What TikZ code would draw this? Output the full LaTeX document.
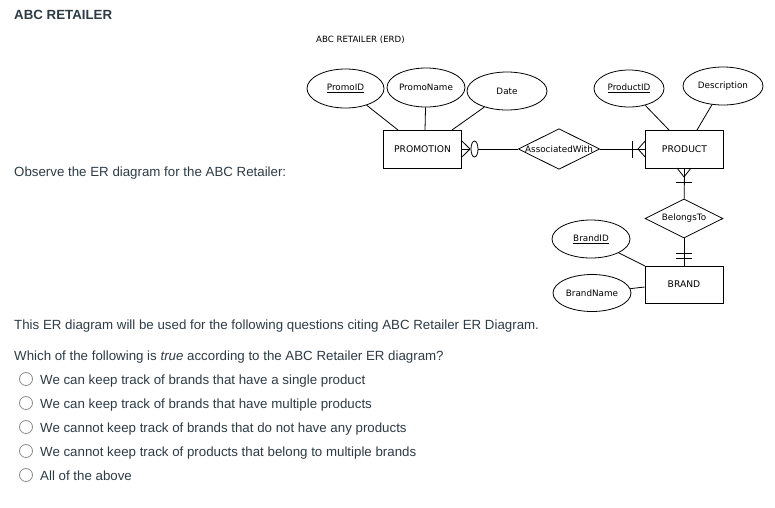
\documentclass[tikz,border=0pt]{standalone}
\usepackage{fontspec}
\setmainfont{Liberation Sans}
\newfontfamily\erfont{DejaVu Sans}
\usetikzlibrary{shapes.geometric}
\definecolor{txt}{HTML}{2D3B45}
\definecolor{radio}{HTML}{8A8A8A}
\begin{document}
\begin{tikzpicture}[x=1pt,y=-1pt,
  attr/.style={draw,ellipse,inner sep=0pt,minimum width=78pt,minimum height=38pt,font=\erfont\fontsize{8.8}{10}\selectfont,line width=0.8pt},
  ent/.style={draw,rectangle,inner sep=0pt,minimum width=78pt,minimum height=38pt,font=\erfont\fontsize{9.2}{11}\selectfont,line width=0.8pt},
  rel/.style={draw,diamond,aspect=2,inner sep=0pt,minimum width=78pt,minimum height=39pt,font=\erfont\fontsize{8.8}{10}\selectfont,line width=0.8pt},
  body/.style={anchor=base west,inner sep=0pt,text=txt,font=\fontsize{13.3}{15}\selectfont},
  er/.style={line width=0.8pt},
  radiobtn/.style={draw=radio,circle,minimum size=13pt,inner sep=0pt,line width=0.8pt}]
\useasboundingbox (0,0) rectangle (775,507);
% page texts
\node[anchor=base west,inner sep=0pt,text=txt,font=\bfseries\fontsize{13.3}{16}\selectfont] (title) at (14,19) {ABC RETAILER};
\node[anchor=base west,inner sep=0pt,font=\erfont\fontsize{8.6}{10}\selectfont] (ertitle) at (316,42) {ABC RETAILER (ERD)};
\node[body] (observe) at (14,176) {Observe the ER diagram for the ABC Retailer:};
\node[body] (this) at (14,329) {This ER diagram will be used for the following questions citing ABC Retailer ER Diagram.};
\node[body] (which) at (14,360) {Which of the following is \textit{true} according to the ABC Retailer ER diagram?};
\foreach \i/\t in {0/We can keep track of brands that have a single product,
                   1/We can keep track of brands that have multiple products,
                   2/We cannot keep track of brands that do not have any products,
                   3/We cannot keep track of products that belong to multiple brands,
                   4/All of the above}{
  \node[radiobtn] (rb\i) at (26,379+24*\i) {};
  \node[body] (opt\i) at (40,384+24*\i) {\t};
}
% entities
\node[ent] (promotion) at (422.5,149) {PROMOTION};
\node[ent] (product) at (684.5,149) {PRODUCT};
\node[ent,minimum height=37pt] (brand) at (684,284.5) {BRAND};
% attributes
\node[attr,minimum width=77pt,minimum height=39pt] (promoid) at (345.5,88.5) {\underline{PromoID}};
\node[attr,minimum height=39pt] (promoname) at (426,87.5) {PromoName};
\node[attr,minimum width=80pt] (date) at (507,91) {Date};
\node[attr,minimum width=70pt,minimum height=37pt] (productid) at (629,88.5) {\underline{ProductID}};
\node[attr,minimum width=80pt] (description) at (723,86) {Description};
\node[attr] (brandid) at (591,239) {\underline{BrandID}};
\node[attr,minimum height=37pt] (brandname) at (592,293) {BrandName};
% relationships
\node[rel] (assoc) at (559,149) {AssociatedWith};
\node[rel] (belongs) at (684,218.5) {BelongsTo};
% attribute links
\draw[er] (promoid) -- (398,130);
\draw[er] (promoname) -- (425,130);
\draw[er] (date) -- (452,130);
\draw[er] (productid) -- (669,130);
\draw[er] (description) -- (697,130);
\draw[er] (brandid) -- (645,266);
\draw[er] (brandname) -- (brand.west |- 0,287);
% PROMOTION -- AssociatedWith : zero-or-many
\coordinate (pcf) at (470,149);
\draw[er] (promotion.east |- 0,141) -- (pcf) -- (promotion.east |- 0,157);
\draw[er] (promotion.east) -- (pcf);
\node[draw,ellipse,line width=0.8pt,minimum width=7pt,minimum height=16pt,inner sep=0pt] (pzero) at (474.5,149) {};
\draw[er] (pzero) -- (assoc);
% AssociatedWith -- PRODUCT : one-or-many
\coordinate (rcf) at (638,149);
\coordinate (rbarT) at (632,141);
\coordinate (rbarB) at (632,158);
\draw[er] (assoc) -- (product.west);
\draw[er] (rbarT) -- (rbarB);
\draw[er] (product.west |- 0,141) -- (rcf) -- (product.west |- 0,157);
% PRODUCT -- BelongsTo : one-or-many
\coordinate (dcf) at (684,177);
\draw[er] (product.south) -- (belongs);
\draw[er] (677,168) -- (dcf) -- (691,168);
\coordinate (dbarL) at (676,182);
\coordinate (dbarR) at (692,182);
\draw[er] (dbarL) -- (dbarR);
% BelongsTo -- BRAND : one-and-only-one
\draw[er] (belongs) -- (brand);
\coordinate (b1L) at (676,253);
\coordinate (b1R) at (692,253);
\coordinate (b2L) at (676,258);
\coordinate (b2R) at (692,258);
\draw[er] (b1L) -- (b1R);
\draw[er] (b2L) -- (b2R);
\end{tikzpicture}
\end{document}
